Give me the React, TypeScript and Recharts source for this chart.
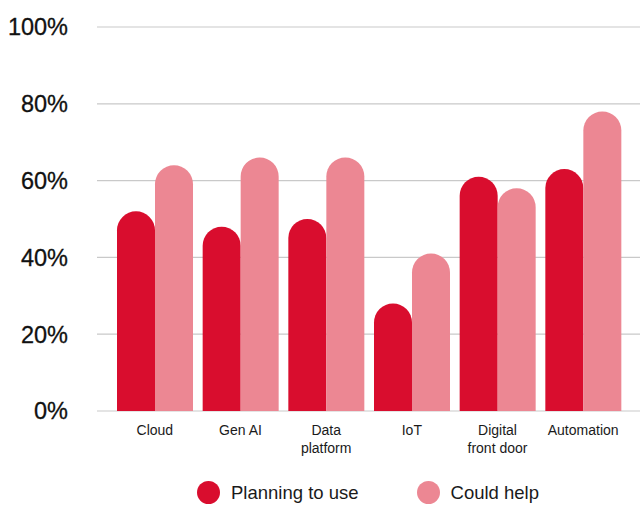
import { BarChart, Bar, XAxis, YAxis, CartesianGrid, Legend } from "recharts"

const categories = ["Cloud", "Gen AI", "Data platform", "IoT", "Digital front door", "Automation"]
const planningToUse = [52, 48, 50, 28, 61, 63]
const couldHelp = [64, 66, 66, 41, 58, 78]
const yTicks = [0, 20, 40, 60, 80, 100]

// two-line labels where the original wraps
const tickLines: Record<string, string[]> = {
  "Data platform": ["Data", "platform"],
  "Digital front door": ["Digital", "front door"],
}

const RED = "#D90D2E"
const PINK = "#EC8793"
const FONT = "'Liberation Sans', Arial, Helvetica, sans-serif"

const data = categories.map((name, i) => ({
  name,
  planning: planningToUse[i],
  could: couldHelp[i],
}))

function CategoryTick({ x, y, payload }: any) {
  const lines = tickLines[payload.value] ?? [payload.value]
  return (
    <text x={x} y={y} textAnchor="middle" fill="#1a1a1a" fontSize={14} fontFamily={FONT}>
      {lines.map((l, i) => (
        <tspan key={l} x={x} dy={i === 0 ? 16 : 18}>
          {l}
        </tspan>
      ))}
    </text>
  )
}

function LegendContent() {
  const items = [
    { label: "Planning to use", color: RED },
    { label: "Could help", color: PINK },
  ]
  return (
    <div
      style={{
        height: 40,
        paddingLeft: 96,
        paddingTop: 15,
        boxSizing: "border-box",
        display: "flex",
        justifyContent: "center",
        alignItems: "center",
        gap: 58,
        fontFamily: FONT,
        fontSize: 18.5,
        color: "#1a1a1a",
      }}
    >
      {items.map((it) => (
        <div key={it.label} style={{ display: "flex", alignItems: "center", gap: 11 }}>
          <span
            style={{ width: 23, height: 23, borderRadius: "50%", background: it.color, display: "inline-block" }}
          />
          <span>{it.label}</span>
        </div>
      ))}
    </div>
  )
}

export default function App() {
  return (
    <div style={{ position: "absolute", left: 0, top: 0, width: 640, height: 505, background: "#fff" }}>
      <BarChart
        width={640}
        height={505}
        data={data}
        margin={{ top: 27, right: 0, bottom: 0, left: 0 }}
        barGap={0}
        barCategoryGap={5}
      >
        <CartesianGrid vertical={false} stroke="#c9c9c9" strokeWidth={1.2} />
        <XAxis
          dataKey="name"
          axisLine={false}
          tickLine={false}
          height={54}
          interval={0}
          padding={{ left: 15, right: 14 }}
          tick={<CategoryTick />}
        />
        <YAxis
          domain={[0, 100]}
          ticks={yTicks}
          width={97}
          axisLine={false}
          tickLine={false}
          tickSize={0}
          tickMargin={29}
          tickFormatter={(v: number) => `${v}%`}
          tick={{ fontSize: 23.5, fill: "#111", stroke: "#111", strokeWidth: 0.3, fontFamily: FONT }}
        />
        <Legend verticalAlign="bottom" content={<LegendContent />} />
        <Bar dataKey="planning" name="Planning to use" fill={RED} radius={[19, 19, 0, 0]} isAnimationActive={false} />
        <Bar dataKey="could" name="Could help" fill={PINK} radius={[19, 19, 0, 0]} isAnimationActive={false} />
      </BarChart>
    </div>
  )
}
